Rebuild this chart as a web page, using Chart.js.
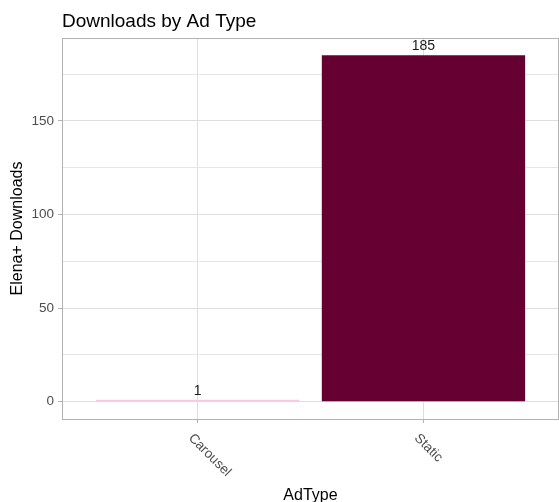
<!DOCTYPE html>
<html>
<head>
<meta charset="utf-8">
<script src="https://cdn.jsdelivr.net/npm/chart.js@4"></script>
<style>
  html, body { margin: 0; padding: 0; background: #fff; }
  #wrap { width: 559px; height: 502px; position: relative; }
</style>
</head>
<body>
<div id="wrap"><canvas id="chart"></canvas></div>
<script>
// data
const categories = ["Carousel", "Static"];
const downloads = [1, 185];
const barColors = ["#ffc6e3", "#660033"];
const yMajorTicks = [0, 50, 100, 150];
const yMinorTicks = [25, 75, 125, 175];

const FONT = "'Liberation Sans', Arial, sans-serif";

// extra drawing: panel border, title, value labels, rotated category labels
const ggDecor = {
  id: "ggDecor",
  afterDraw(chart){
    const ctx = chart.ctx;
    const a = chart.chartArea;
    const xs = chart.scales.x;
    ctx.save();

    // panel border
    const L = Math.round(a.left) + 0.5, R = Math.round(a.right) - 0.5;
    const T = Math.round(a.top) + 0.5, B = Math.round(a.bottom) + 0.5;
    ctx.strokeStyle = "#b3b3b3";
    ctx.lineWidth = 1;
    ctx.strokeRect(L, T, R - L, B - T);

    // title
    ctx.fillStyle = "#000";
    ctx.font = "19px " + FONT;
    ctx.textAlign = "left";
    ctx.textBaseline = "alphabetic";
    ctx.fillText("Downloads by Ad Type", a.left, 27);

    // value labels on bars
    const meta = chart.getDatasetMeta(0);
    ctx.font = "14px " + FONT;
    ctx.fillStyle = "#1a1a1a";
    ctx.textAlign = "center";
    meta.data.forEach((bar, i) => {
      ctx.fillText(String(downloads[i]), bar.x, bar.y - 5);
    });

    // category labels, rotated like ggplot angle=-45
    ctx.font = "13.5px " + FONT;
    ctx.fillStyle = "#4d4d4d";
    ctx.textAlign = "left";
    ctx.textBaseline = "middle";
    categories.forEach((c, i) => {
      const px = xs.getPixelForValue(i + 1);
      ctx.save();
      ctx.translate(px - 7, a.bottom + 17);
      ctx.rotate(Math.PI / 4);
      ctx.fillText(c, 0, 0);
      ctx.restore();
    });

    // x axis title
    ctx.font = "16px " + FONT;
    ctx.fillStyle = "#000";
    ctx.textAlign = "center";
    ctx.textBaseline = "alphabetic";
    ctx.fillText("AdType", (a.left + a.right) / 2, 500);

    ctx.restore();
  }
};

new Chart(document.getElementById("chart"), {
  type: "bar",
  data: {
    datasets: [{
      label: "Elena+ Downloads",
      data: downloads.map((v, i) => ({ x: i + 1, y: v })),
      backgroundColor: barColors,
      borderWidth: 0,
      barPercentage: 0.9,
      categoryPercentage: 1
    }]
  },
  options: {
    responsive: true,
    maintainAspectRatio: false,
    animation: false,
    layout: { padding: { top: 38, right: 0, bottom: 0, left: 0 } },
    plugins: {
      legend: { display: false },
      title: { display: false },
      tooltip: { enabled: false }
    },
    scales: {
      x: {
        type: "linear",
        min: 0.4,
        max: 2.6,
        offset: false,
        afterBuildTicks(scale){
          scale.ticks = categories.map((c, i) => ({ value: i + 1 }));
        },
        afterFit(scale){ scale.height = 83; },
        ticks: { display: false },
        grid: {
          offset: false,
          color: "#dedede",
          lineWidth: 1,
          tickColor: "#b3b3b3",
          tickLength: 4,
          drawTicks: true
        },
        border: { display: false }
      },
      y: {
        min: -9.25,
        max: 194.25,
        afterBuildTicks(scale){
          scale.ticks = yMajorTicks.concat(yMinorTicks)
            .sort((p, q) => p - q)
            .map(v => ({ value: v }));
        },
        afterFit(scale){ scale.width = 62; },
        ticks: {
          font: { family: FONT, size: 13.5 },
          color: "#4d4d4d",
          padding: 4,
          callback: v => yMajorTicks.includes(v) ? String(v) : ""
        },
        grid: {
          color: ctx => yMajorTicks.includes(ctx.tick && ctx.tick.value) ? "#dedede" : "#e6e6e6",
          lineWidth: 1,
          tickColor: ctx => yMajorTicks.includes(ctx.tick && ctx.tick.value) ? "#b3b3b3" : "rgba(0,0,0,0)",
          tickLength: 4
        },
        border: { display: false },
        title: {
          display: true,
          text: "Elena+ Downloads",
          font: { family: FONT, size: 16 },
          color: "#000",
          padding: { top: 8, bottom: 0 }
        }
      }
    }
  },
  plugins: [ggDecor]
});
</script>
</body>
</html>
